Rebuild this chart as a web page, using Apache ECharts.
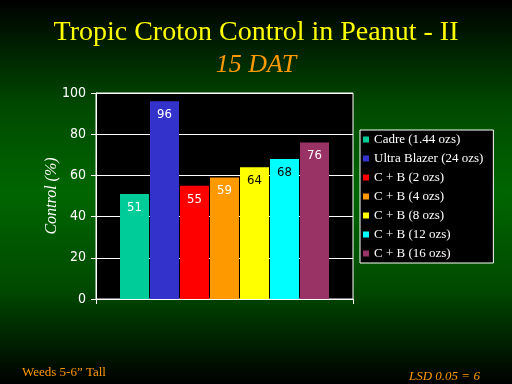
<!DOCTYPE html>
<html>
<head>
<meta charset="utf-8">
<script src="https://cdn.jsdelivr.net/npm/echarts@6/dist/echarts.min.js"></script>
<style>
html,body{margin:0;padding:0;}
#c{width:512px;height:384px;background:linear-gradient(to bottom,#000000 0%,#004a00 28%,#006600 50%,#004a00 75%,#000000 100%);}
</style>
</head>
<body>
<div id="c"></div>
<script>
const categories = [''];
const seriesNames = ['Cadre (1.44 ozs)','Ultra Blazer (24 ozs)','C + B (2 ozs)','C + B (4 ozs)','C + B (8 ozs)','C + B (12 ozs)','C + B (16 ozs)'];
const seriesValues = [51, 96, 55, 59, 64, 68, 76];
const seriesColors = ['#00CC99','#3333CC','#FF0000','#FF9900','#FFFF00','#00FFFF','#993366'];
const labelColors = ['#FFFFFF','#FFFFFF','#FFFFFF','#FFFFFF','#000000','#000000','#FFFFFF'];
const yTicks = [0, 20, 40, 60, 80, 100];

const chart = echarts.init(document.getElementById('c'), null, {renderer:'canvas'});
const narrow = '"Liberation Sans Narrow","DejaVu Sans Condensed","Liberation Sans",sans-serif';
const serif = '"Liberation Serif","DejaVu Serif",serif';

chart.setOption({
  backgroundColor: 'transparent',
  animation: false,
  graphic: [
    {type:'text', left:'center', top:19, style:{text:'Tropic Croton Control in Peanut - II', fill:'#FFFF00', font:'28px ' + serif}},
    {type:'text', left:'center', top:52, style:{text:'15 DAT', fill:'#FF9900', font:'italic 26px ' + serif}},
    {type:'text', left:22, top:366, style:{text:'Weeds 5-6\u201D Tall', fill:'#FF9900', font:'13px ' + serif}},
    {type:'text', left:409, top:370, style:{text:'LSD 0.05 = 6', fill:'#FF9900', font:'italic 13px ' + serif}}
  ],
  grid: {left:96, right:159, top:93, bottom:85, show:true, backgroundColor:'#000', borderColor:'#fff', borderWidth:1},
  legend: {
    data: seriesNames, orient:'vertical', left:360, top:130,
    icon:'rect', itemWidth:6, itemHeight:6, itemGap:4,
    padding:[2,10,2,3], backgroundColor:'#000', borderColor:'#fff', borderWidth:1, borderRadius:0,
    textStyle:{color:'#fff', fontFamily:serif, fontSize:13, lineHeight:15},
    selectedMode:false
  },
  xAxis: {
    type:'category', data:categories,
    axisLine:{lineStyle:{color:'#fff', width:1}},
    axisTick:{show:true, length:5, lineStyle:{color:'#fff'}},
    axisLabel:{show:false}, splitLine:{show:false}
  },
  yAxis: {
    type:'value', min:yTicks[0], max:yTicks[yTicks.length-1], interval:20,
    name:'Control (%)', nameLocation:'middle', nameGap:36, nameMoveOverlap:false,
    nameTextStyle:{color:'#fff', fontFamily:serif, fontStyle:'italic', fontSize:16},
    axisLine:{show:true, lineStyle:{color:'#fff', width:1}},
    axisTick:{show:true, length:5, lineStyle:{color:'#fff'}},
    axisLabel:{color:'#fff', fontFamily:narrow, fontSize:14, margin:10},
    splitLine:{show:true, lineStyle:{color:'#fff', width:1}}
  },
  series: seriesNames.map((n,i)=>({
    name:n, type:'bar', data:[seriesValues[i]],
    barWidth:29, barGap:'3.45%',
    itemStyle:{color:seriesColors[i]},
    label:{show:true, position:'insideTop', distance:7, color:labelColors[i], fontFamily:narrow, fontSize:13}
  }))
});
</script>
</body>
</html>
